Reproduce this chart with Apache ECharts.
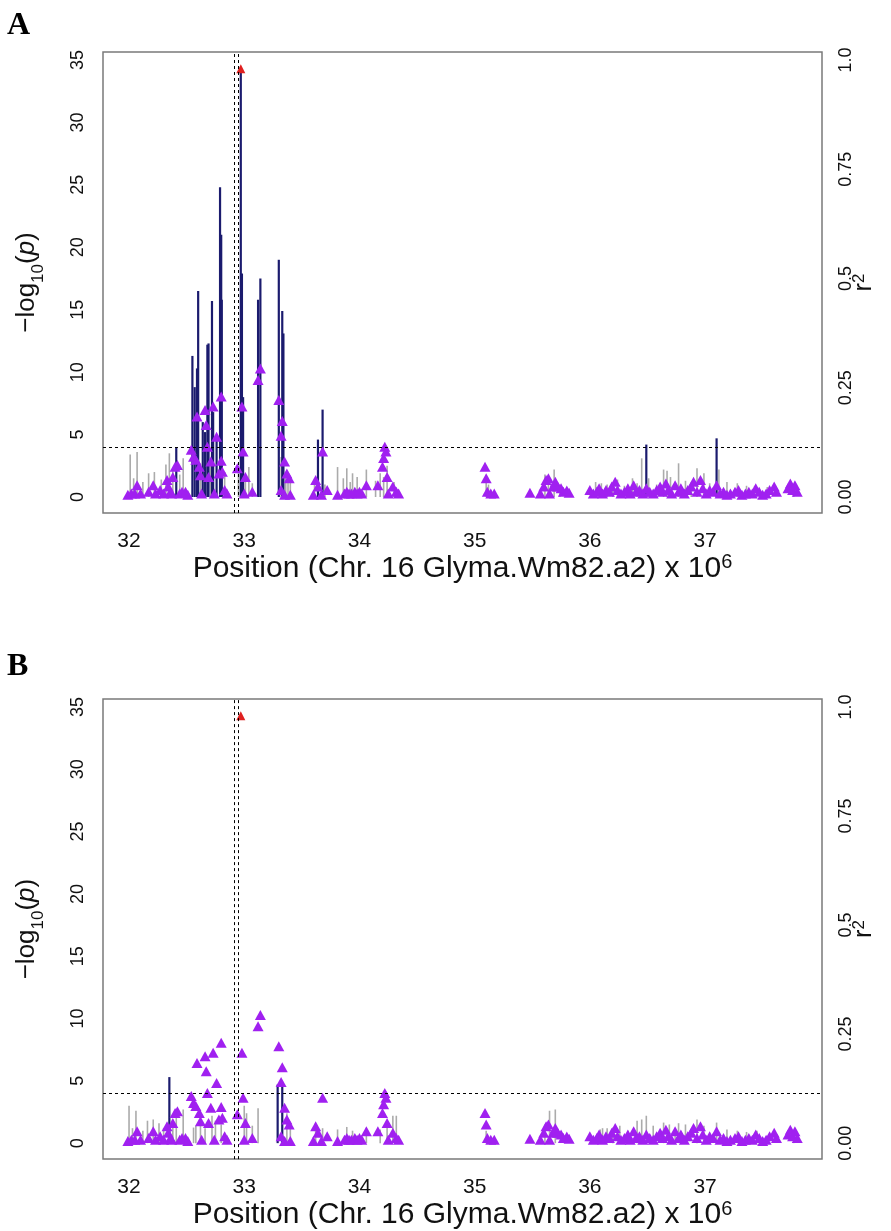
<!DOCTYPE html>
<html>
<head>
<meta charset="utf-8">
<script src="https://cdn.jsdelivr.net/npm/echarts@6/dist/echarts.min.js"></script>
<style>
  html, body { margin: 0; padding: 0; background: #fff; }
  #main { width: 891px; height: 1231px; }
</style>
</head>
<body>
<div id="main"></div>
<script>
// x axis ticks (Mb)
var xTicks = [32, 33, 34, 35, 36, 37];
var pTicks = [0, 5, 10, 15, 20, 25, 30, 35];
var r2Ticks = [0, 0.25, 0.5, 0.75, 1];
var r2TickLabels = ['0.00', '0.25', '0.5', '0.75', '1.0'];

// lead SNP
var leadPos = 32.97;
var leadR2 = 0.98;
var threshold = 4;
var regionLines = [32.91, 32.95];

// panel A: -log10(p) bars
var posA = [32.01, 32.04, 32.07, 32.12, 32.17, 32.22, 32.28, 32.32, 32.35, 32.38, 32.41, 32.44, 32.47,
  32.55, 32.57, 32.59, 32.60, 32.62, 32.64, 32.66, 32.68, 32.69, 32.71, 32.72, 32.73, 32.76, 32.79, 32.80, 32.805, 32.83,
  32.95, 32.97, 32.98, 32.99, 33.01, 33.04, 33.07, 33.12, 33.14,
  33.30, 33.32, 33.33, 33.34, 33.36, 33.38, 33.40,
  33.61, 33.64, 33.68, 33.70,
  33.81, 33.86, 33.89, 33.92, 33.94, 33.98, 34.06, 34.14, 34.18, 34.21, 34.24, 34.30,
  35.10, 35.12, 35.61, 35.64, 35.69, 35.74,
  36.05, 36.10, 36.15, 36.20, 36.24, 36.30, 36.37, 36.41, 36.45, 36.49, 36.51, 36.58, 36.64, 36.67, 36.70,
  36.77, 36.83, 36.88, 36.93, 36.99, 37.04, 37.10, 37.12, 37.19, 37.28, 37.36, 37.43, 37.54, 37.77];
var logpA = [3.4, 1.5, 3.6, 1.2, 1.9, 2.0, 1.4, 2.6, 3.5, 2.2, 4.0, 1.8, 3.1,
  11.3, 8.8, 10.3, 16.5, 2.6, 6.0, 5.2, 12.2, 12.3, 3.0, 15.7, 6.8, 4.5, 24.8, 21.0, 15.8, 2.0,
  2.0, 34.4, 17.9, 8.0, 1.5, 2.4, 1.1, 15.8, 17.5,
  19.0, 3.2, 14.9, 13.1, 2.0, 1.5, 1.2,
  1.3, 4.6, 7.0, 1.0,
  2.4, 1.5, 2.3, 1.2, 1.9, 1.6, 2.2, 1.3, 1.9, 1.6, 2.5, 1.2,
  1.6, 1.0, 1.8, 1.5, 2.2, 1.0,
  1.2, 1.1, 1.0, 1.1, 1.4, 0.9, 1.5, 1.1, 3.1, 4.2, 1.5, 1.0, 2.2, 2.1, 1.6,
  2.7, 1.3, 1.0, 2.3, 1.9, 1.1, 4.7, 2.2, 1.2, 1.1, 0.9, 0.9, 0.8, 1.0];

// panel B: conditional -log10(p) bars
var posB = [32.00, 32.03, 32.06, 32.12, 32.16, 32.21, 32.26, 32.30, 32.35, 32.38, 32.41, 32.47,
  32.56, 32.58, 32.62, 32.66, 32.72, 32.75, 32.80,
  33.00, 33.02, 33.07, 33.12,
  33.29, 33.33, 33.37, 33.40,
  33.62, 33.68, 33.81, 33.89, 33.94, 34.06, 34.18, 34.24, 34.29, 34.32,
  35.10, 35.61, 35.65, 35.70,
  36.09, 36.11, 36.15, 36.20, 36.26, 36.33, 36.41, 36.45, 36.49, 36.55, 36.64, 36.69, 36.74, 36.77,
  36.83, 36.93, 36.99, 37.10, 37.19, 37.28, 37.36, 37.45, 37.77];
var logpB = [3.0, 1.2, 2.6, 1.0, 1.8, 1.9, 1.6, 1.2, 5.3, 1.5, 2.4, 2.7,
  1.25, 1.4, 1.9, 1.2, 2.2, 1.8, 1.5,
  3.0, 2.4, 1.4, 2.8,
  4.7, 4.7, 2.4, 1.6,
  1.0, 1.2, 1.1, 1.3, 1.0, 1.2, 1.1, 1.7, 2.2, 2.2,
  1.0, 1.5, 2.6, 2.7,
  1.1, 1.2, 1.2, 1.25, 1.4, 1.0, 1.8, 1.9, 2.2, 1.4, 1.65, 1.5, 1.2, 1.6,
  1.5, 1.9, 1.4, 1.65, 1.1, 1.0, 0.9, 1.0, 0.8];

// r2 with the lead SNP (triangles, same in both panels)
var triPos = [31.99, 32.02, 32.05, 32.07, 32.10, 32.17, 32.21, 32.23, 32.27, 32.30, 32.33, 32.34, 32.36, 32.37, 32.38,
  32.40, 32.42, 32.44, 32.46, 32.49, 32.51,
  32.54, 32.56, 32.58, 32.59, 32.61, 32.62, 32.63, 32.66, 32.67, 32.68, 32.69, 32.71, 32.73, 32.74, 32.76, 32.78,
  32.80, 32.80, 32.81, 32.83, 32.85,
  32.94, 32.98, 32.99, 33.00, 33.01, 33.07, 33.12, 33.14,
  33.30, 33.33, 33.32, 33.35, 33.37, 33.39, 33.32, 33.35, 33.40,
  33.60, 33.62, 33.64, 33.67, 33.68, 33.72,
  33.81, 33.87, 33.89, 33.91, 33.93, 33.96, 33.98, 34.00, 34.02, 34.06,
  34.16, 34.20, 34.21, 34.22, 34.23, 34.24, 34.25, 34.29, 34.32, 34.34,
  35.09, 35.10, 35.11, 35.14, 35.17, 35.48,
  35.57, 35.60, 35.62, 35.64, 35.65, 35.68, 35.70, 35.72, 35.75, 35.77, 35.80, 35.82,
  36.00, 36.03, 36.06, 36.08, 36.11, 36.14, 36.17, 36.19, 36.22, 36.24, 36.27, 36.30, 36.33, 36.35, 36.38,
  36.40, 36.43, 36.46, 36.49, 36.52, 36.55, 36.58, 36.61, 36.63, 36.66, 36.68, 36.71, 36.74, 36.77, 36.79,
  36.82, 36.85, 36.88, 36.90, 36.93, 36.96, 36.98, 37.01, 37.04, 37.07, 37.10, 37.13, 37.16, 37.19, 37.22,
  37.26, 37.29, 37.32, 37.35, 37.38, 37.41, 37.44, 37.47, 37.50, 37.53, 37.56, 37.60, 37.62,
  37.72, 37.74, 37.76, 37.78, 37.80];
var triR2 = [0.005, 0.008, 0.008, 0.027, 0.008, 0.012, 0.027, 0.008, 0.016, 0.008, 0.039, 0.024, 0.012, 0.008, 0.046,
  0.069, 0.073, 0.008, 0.012, 0.012, 0.005,
  0.108, 0.092, 0.085, 0.184, 0.069, 0.050, 0.008, 0.199, 0.165, 0.115, 0.046, 0.081, 0.207, 0.008, 0.138, 0.054,
  0.230, 0.083, 0.058, 0.016, 0.008,
  0.066, 0.207, 0.104, 0.008, 0.046, 0.012, 0.268, 0.294,
  0.222, 0.174, 0.140, 0.081, 0.054, 0.043, 0.016, 0.005, 0.005,
  0.005, 0.039, 0.024, 0.005, 0.104, 0.016,
  0.005, 0.008, 0.012, 0.008, 0.008, 0.012, 0.008, 0.012, 0.008, 0.027,
  0.027, 0.069, 0.089, 0.115, 0.104, 0.046, 0.008, 0.024, 0.012, 0.008,
  0.069, 0.043, 0.012, 0.008, 0.008, 0.010,
  0.008, 0.024, 0.039, 0.043, 0.008, 0.024, 0.035, 0.024, 0.020, 0.012, 0.015, 0.010,
  0.016, 0.008, 0.012, 0.020, 0.008, 0.016, 0.012, 0.024, 0.035, 0.016, 0.008, 0.012, 0.020, 0.008, 0.027,
  0.012, 0.016, 0.008, 0.020, 0.012, 0.008, 0.016, 0.024, 0.012, 0.031, 0.016, 0.008, 0.027, 0.012, 0.020,
  0.008, 0.016, 0.024, 0.035, 0.012, 0.039, 0.020, 0.008, 0.016, 0.012, 0.027, 0.008, 0.012, 0.005, 0.008,
  0.012, 0.016, 0.005, 0.008, 0.012, 0.008, 0.020, 0.012, 0.005, 0.008, 0.016, 0.024, 0.012,
  0.020, 0.031, 0.016, 0.027, 0.012];

var FONT = 'Liberation Sans';
var chart = echarts.init(document.getElementById('main'));

var grids = [
  { left: 103, top: 52, width: 719, height: 461 },
  { left: 103, top: 699, width: 719, height: 461 }
];

function pairs(xs, ys) {
  return xs.map(function (x, i) { return [x, ys[i]]; });
}

function barSeries(p, data, color, width, withLines) {
  var s = {
    type: 'custom',
    xAxisIndex: p,
    yAxisIndex: 2 * p,
    clip: true,
    silent: true,
    z: 2,
    encode: { x: 0, y: 1 },
    data: data,
    renderItem: function (params, api) {
      var x = api.value(0), v = api.value(1);
      var a = api.coord([x, 0]);
      var b = api.coord([x, v]);
      return {
        type: 'line',
        shape: { x1: a[0], y1: a[1], x2: b[0], y2: b[1] },
        style: { stroke: color, lineWidth: width }
      };
    }
  };
  if (withLines) {
    s.markLine = {
      silent: true,
      symbol: 'none',
      label: { show: false },
      lineStyle: { color: '#000', width: 1, type: [3, 3] },
      data: [
        { xAxis: regionLines[0] },
        { xAxis: regionLines[1] },
        { yAxis: threshold }
      ]
    };
  }
  return s;
}

var xAxes = [], yAxes = [], series = [];
var allBars = [pairs(posA, logpA), pairs(posB, logpB)];

[0, 1].forEach(function (p) {
  xAxes.push({
    type: 'value',
    gridIndex: p,
    min: 31.774,
    max: 38.015,
    axisLine: { show: false },
    axisTick: { show: false },
    splitLine: { show: false },
    axisLabel: {
      customValues: xTicks,
      fontFamily: FONT,
      fontSize: 21,
      color: '#111',
      margin: 18
    },
    name: '{t|Position (Chr. 16 Glyma.Wm82.a2) x 10}{sup|6}',
    nameLocation: 'middle',
    nameGap: 36,
    nameTextStyle: {
      rich: {
        t: { fontFamily: FONT, fontSize: 30, color: '#111' },
        sup: { fontFamily: FONT, fontSize: 20, verticalAlign: 'top', padding: [0, 0, 12, 0], color: '#111' }
      }
    }
  });
  yAxes.push({
    type: 'value',
    gridIndex: p,
    position: 'left',
    min: -1.28,
    max: 35.64,
    axisLine: { show: false },
    axisTick: { show: false },
    splitLine: { show: false },
    axisLabel: {
      customValues: pTicks,
      rotate: 90,
      fontFamily: FONT,
      fontSize: 18,
      color: '#111',
      margin: 16
    },
    name: '{t|\u2212log}{sub|10}{t|(}{it|p}{t|)}',
    nameLocation: 'middle',
    nameRotate: 90,
    nameGap: 56,
    nameTextStyle: {
      rich: {
        t: { fontFamily: FONT, fontSize: 26, color: '#111', verticalAlign: 'top' },
        sub: { fontFamily: FONT, fontSize: 17, verticalAlign: 'bottom', padding: [16, 0, 0, 0], color: '#111' },
        it: { fontFamily: FONT, fontSize: 26, fontStyle: 'italic', color: '#111', verticalAlign: 'top' }
      }
    }
  });
  yAxes.push({
    type: 'value',
    gridIndex: p,
    position: 'right',
    min: -1.28 / 35,
    max: 35.64 / 35,
    axisLine: { show: false },
    axisTick: { show: false },
    splitLine: { show: false },
    axisLabel: {
      customValues: r2Ticks,
      rotate: 90,
      fontFamily: FONT,
      fontSize: 18,
      color: '#111',
      margin: 15,
      formatter: function (v) {
        var i = r2Ticks.indexOf(v);
        return i >= 0 ? r2TickLabels[i] : '';
      }
    },
    name: '{r|r}{sup|2}',
    nameLocation: 'middle',
    nameRotate: 90,
    nameGap: 29,
    nameMoveOverlap: false,
    nameTextStyle: {
      rich: {
        r: { fontFamily: FONT, fontSize: 25, color: '#111' },
        sup: { fontFamily: FONT, fontSize: 17, verticalAlign: 'top', padding: [0, 0, 10, 0], color: '#111' }
      }
    }
  });

  var bars = allBars[p];
  series.push(barSeries(p, bars.filter(function (d) { return d[1] < threshold; }), '#ABABAB', 1.6, true));
  series.push(barSeries(p, bars.filter(function (d) { return d[1] >= threshold; }), '#1B1B6E', 2.2, false));
  series.push({
    type: 'scatter',
    xAxisIndex: p,
    yAxisIndex: 2 * p + 1,
    symbol: 'triangle',
    symbolSize: [11, 10],
    silent: true,
    z: 3,
    itemStyle: { color: '#A020F0', opacity: 1 },
    data: pairs(triPos, triR2)
  });
  series.push({
    type: 'scatter',
    xAxisIndex: p,
    yAxisIndex: 2 * p + 1,
    symbol: 'triangle',
    symbolSize: [9, 9],
    silent: true,
    z: 4,
    itemStyle: { color: '#E02020', opacity: 1 },
    data: [[leadPos, leadR2]]
  });
});

var option = {
  animation: false,
  backgroundColor: '#fff',
  grid: grids.map(function (g) {
    return Object.assign({ show: true, borderColor: '#7a7a7a', borderWidth: 1.5, backgroundColor: 'transparent' }, g);
  }),
  xAxis: xAxes,
  yAxis: yAxes,
  series: series,
  graphic: [
    { type: 'text', left: 7, top: 10, style: { text: 'A', font: 'bold 32px "Liberation Serif"', fill: '#000' } },
    { type: 'text', left: 7, top: 651, style: { text: 'B', font: 'bold 32px "Liberation Serif"', fill: '#000' } }
  ]
};

chart.setOption(option);
</script>
</body>
</html>
